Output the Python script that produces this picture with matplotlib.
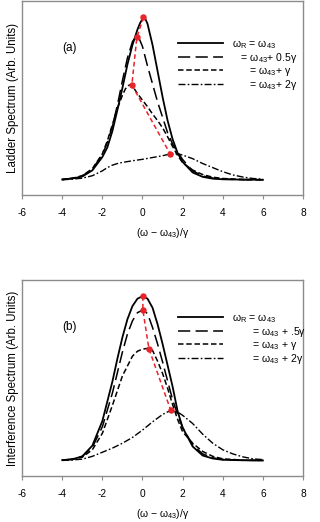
"""
Ladder / interference spectra for several Rabi detunings, two stacked panels.
Curve values read off the reference figure by eye.
"""
import matplotlib
matplotlib.use("Agg")
import matplotlib.pyplot as plt
from matplotlib.lines import Line2D

plt.rcParams["font.family"] = ["Liberation Sans", "DejaVu Sans"]
plt.rcParams["mathtext.default"] = "regular"

# ---- panel (a): ladder spectrum ----
xa_solid = [-4, -3.5, -3, -2.5, -2, -1.75, -1.5, -1.25, -1, -0.75, -0.5, -0.25, -0.125, 0, 0.05,
            0.125, 0.25, 0.5, 0.75, 1, 1.25, 1.5, 1.75, 2, 2.5, 3, 3.5, 4, 5, 6]
ya_solid = [0.002, 0.008, 0.02, 0.058, 0.14, 0.20, 0.30, 0.43, 0.565, 0.71, 0.83, 0.925, 0.963, 0.99, 1.0,
            0.995, 0.96, 0.83, 0.67, 0.51, 0.365, 0.25, 0.165, 0.11, 0.045, 0.018, 0.007, 0.003, 0.001, 0.0]
xa_half = [-4, -3.5, -3, -2.5, -2, -1.75, -1.5, -1.25, -1, -0.75, -0.5, -0.38, -0.28, -0.15, 0,
           0.25, 0.5, 0.75, 1, 1.25, 1.5, 1.75, 2, 2.5, 3, 3.5, 4, 5, 6]
ya_half = [0.002, 0.009, 0.024, 0.065, 0.155, 0.23, 0.33, 0.46, 0.61, 0.75, 0.85, 0.873, 0.88, 0.865, 0.82,
           0.70, 0.59, 0.48, 0.385, 0.29, 0.22, 0.17, 0.125, 0.055, 0.024, 0.01, 0.004, 0.001, 0.0]
xa_one = [-4, -3.5, -3, -2.5, -2, -1.75, -1.5, -1.25, -1, -0.85, -0.7, -0.6, -0.5, -0.25, 0,
          0.25, 0.5, 0.75, 1, 1.25, 1.5, 1.75, 2, 2.5, 3, 3.5, 4, 5, 6]
ya_one = [0.002, 0.009, 0.025, 0.068, 0.16, 0.24, 0.34, 0.44, 0.52, 0.56, 0.58, 0.585, 0.578, 0.53, 0.49,
          0.45, 0.405, 0.365, 0.32, 0.265, 0.205, 0.15, 0.105, 0.06, 0.032, 0.016, 0.008, 0.002, 0.0]
xa_two = [-4, -3.5, -3, -2.5, -2, -1.75, -1.5, -1.25, -1, -0.5, 0, 0.5, 1, 1.38, 1.75, 2,
          2.5, 3, 3.5, 4, 4.5, 5, 5.5, 6]
ya_two = [0.0, 0.004, 0.01, 0.025, 0.055, 0.075, 0.09, 0.10, 0.107, 0.117, 0.126, 0.137, 0.148, 0.159, 0.16, 0.152,
          0.13, 0.10, 0.075, 0.05, 0.03, 0.017, 0.008, 0.004]
xa_peaks = [0.05, -0.28, -0.53, 1.38]
ya_peaks = [1.0, 0.878, 0.583, 0.159]

# ---- panel (b): interference spectrum ----
xb_solid = [-4, -3.5, -3, -2.5, -2, -1.5, -1.25, -1, -0.75, -0.5, -0.25, 0, 0.25, 0.5, 0.75, 1,
            1.25, 1.5, 1.75, 2, 2.5, 3, 3.5, 4, 5, 6]
yb_solid = [0.002, 0.007, 0.025, 0.09, 0.24, 0.48, 0.62, 0.75, 0.86, 0.94, 0.985, 1.0, 0.985, 0.93, 0.83, 0.71,
            0.58, 0.45, 0.30, 0.20, 0.085, 0.03, 0.012, 0.004, 0.001, 0.0]
xb_half = [-4, -3.5, -3, -2.5, -2, -1.5, -1, -0.75, -0.5, -0.25, 0, 0.25, 0.5, 0.75, 1, 1.25,
           1.5, 1.75, 2, 2.5, 3, 3.5, 4, 5, 6]
yb_half = [0.002, 0.008, 0.025, 0.08, 0.205, 0.41, 0.66, 0.77, 0.85, 0.9, 0.915, 0.895, 0.81, 0.71, 0.6, 0.485,
           0.37, 0.28, 0.20, 0.095, 0.04, 0.016, 0.006, 0.001, 0.0]
xb_one = [-4, -3.5, -3, -2.5, -2, -1.5, -1, -0.5, -0.25, 0, 0.3, 0.5, 0.75, 1, 1.25, 1.5,
          1.75, 2, 2.5, 3, 3.5, 4, 5, 6]
yb_one = [0.001, 0.006, 0.02, 0.065, 0.165, 0.335, 0.515, 0.635, 0.665, 0.678, 0.683, 0.67, 0.605, 0.53, 0.44, 0.34,
          0.25, 0.175, 0.105, 0.055, 0.025, 0.01, 0.002, 0.0]
xb_two = [-4, -3.5, -3, -2.5, -2, -1.5, -1, -0.5, 0, 0.5, 1, 1.41, 1.75, 2, 2.5, 3,
          3.5, 4, 4.5, 5, 5.5, 6]
yb_two = [0.0, 0.003, 0.008, 0.025, 0.05, 0.075, 0.105, 0.14, 0.185, 0.235, 0.28, 0.305, 0.295, 0.275, 0.225, 0.16,
          0.105, 0.065, 0.04, 0.022, 0.01, 0.005]
xb_peaks = [0.02, 0.02, 0.32, 1.41]
yb_peaks = [1.0, 0.915, 0.68, 0.305]

xticks = [-6, -4, -2, 0, 2, 4, 6, 8]
labels_a = ["$\\omega_R$ = $\\omega_{43}$", "   = $\\omega_{43}$+ 0.5γ",
            "      = $\\omega_{43}$+ γ", "      = $\\omega_{43}$+ 2γ"]
labels_b = ["$\\omega_R$ = $\\omega_{43}$", "       = $\\omega_{43}$ + .5γ",
            "       = $\\omega_{43}$ + γ", "       = $\\omega_{43}$ + 2γ"]

styles = [dict(ls="-", lw=1.3),
          dict(ls=(0, (8, 3.5)), lw=1.1),
          dict(ls=(0, (3.6, 1.8)), lw=1.1),
          dict(ls=(0, (5, 1.6, 1.2, 1.6)), lw=1.0)]
GREY = "#8c8c8c"
RED = "#e8232a"

fig = plt.figure(figsize=(3.2, 5.22), dpi=100)
ax_a = fig.add_axes([0.069, 0.626, 0.878, 0.372])
ax_b = fig.add_axes([0.069, 0.088, 0.878, 0.376])


def draw(ax, curves, px, py, labels, tag, ylabel, leg_y):
    for (x, y), st in zip(curves, styles):
        ax.plot(x, y, color="black", **st)
    ax.plot(px, py, color=RED, ls=(0, (3, 2)), lw=1.1, marker="o", ms=3.6, zorder=5)
    ax.set_xlim(-6, 8)
    ax.set_ylim(-0.095, 1.1)
    ax.set_xticks(xticks)
    ax.set_xticklabels([str(t) for t in xticks])
    ax.set_yticks([])
    ax.tick_params(axis="x", length=3, width=0.8, color=GREY, pad=6, labelsize=7.3)
    for s in ax.spines.values():
        s.set_color(GREY)
        s.set_linewidth(1.0)
    ax.set_xlabel("(ω − ω$_{43}$)/γ", fontsize=7.5, labelpad=6)
    ax.set_ylabel(ylabel, fontsize=8.3, labelpad=2)
    ax.text(-4.0, 0.81, tag, fontsize=8.5, ha="left", va="center")
    handles = [Line2D([], [], color="black", **st) for st in styles]
    ax.legend(handles, labels, loc="upper left", bbox_to_anchor=(0.555, leg_y),
              frameon=False, fontsize=7.6, handlelength=4.25, handletextpad=0.9,
              labelspacing=0.0, borderpad=0, borderaxespad=0)


draw(ax_a, [(xa_solid, ya_solid), (xa_half, ya_half), (xa_one, ya_one), (xa_two, ya_two)],
     xa_peaks, ya_peaks, labels_a, "(a)", "Ladder Spectrum (Arb. Units)", 0.81)
draw(ax_b, [(xb_solid, yb_solid), (xb_half, yb_half), (xb_one, yb_one), (xb_two, yb_two)],
     xb_peaks, yb_peaks, labels_b, "(b)", "Interference Spectrum (Arb. Units)", 0.837)

fig.savefig("out.png", dpi=100)
